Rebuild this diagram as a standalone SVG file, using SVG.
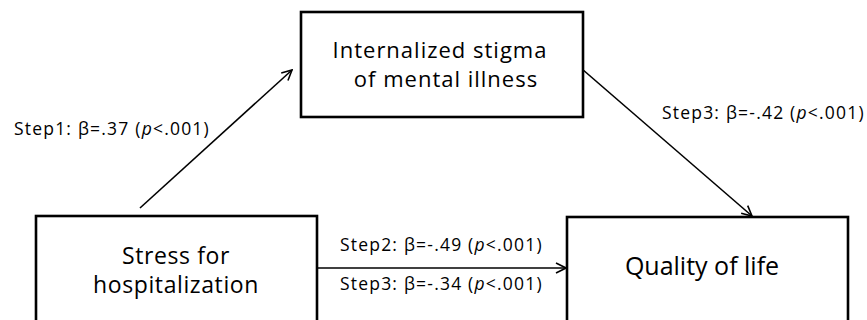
<svg xmlns="http://www.w3.org/2000/svg" width="867" height="320" viewBox="0 0 867 320">
<defs>
<style>
.box{fill:#fff;stroke:#000;stroke-width:2.6}
.t{font-family:"Open Sans","Noto Sans",sans-serif;fill:#000;text-anchor:middle}
.t1{font-size:22px;letter-spacing:1px}
.t2{font-size:23px;letter-spacing:0.6px}
.t3{font-size:25px}
.l{font-family:"Open Sans","Noto Sans",sans-serif;font-size:17.5px;letter-spacing:1.2px;fill:#000}
.c{stroke:#000;stroke-width:1.6;fill:none}
</style>
<marker id="ah" viewBox="0 0 12 12" refX="11" refY="6" markerWidth="12" markerHeight="12" markerUnits="userSpaceOnUse" orient="auto">
<path d="M1,1 L11,6 L1,11" fill="none" stroke="#000" stroke-width="1.6"/>
</marker>
</defs>
<rect width="867" height="320" fill="#fff"/>
<g id="connectors">
<line class="c" x1="140" y1="208" x2="292" y2="70" marker-end="url(#ah)"/>
<line class="c" x1="582" y1="69" x2="752" y2="216" marker-end="url(#ah)"/>
<line class="c" x1="318" y1="268" x2="566" y2="268" marker-end="url(#ah)"/>
</g>
<g id="node-stigma">
<rect class="box" x="301" y="12" width="282" height="105"/>
<text class="t t1" x="440" y="58">Internalized stigma</text>
<text class="t t1" x="446" y="87">of mental illness</text>
</g>
<g id="node-stress">
<rect class="box" x="36" y="216" width="281" height="110"/>
<text class="t t2" x="176" y="264">Stress for</text>
<text class="t t2" x="176" y="293">hospitalization</text>
</g>
<g id="node-qol">
<rect class="box" x="567" y="217" width="281" height="110"/>
<text class="t t3" x="702" y="275">Quality of life</text>
</g>
<g id="labels">
<text class="l" x="14" y="135">Step1: β=.37 (<tspan font-style="italic">p</tspan>&lt;.001)</text>
<text class="l" x="662" y="119">Step3: β=-.42 (<tspan font-style="italic">p</tspan>&lt;.001)</text>
<text class="l" x="340" y="251">Step2: β=-.49 (<tspan font-style="italic">p</tspan>&lt;.001)</text>
<text class="l" x="340" y="290">Step3: β=-.34 (<tspan font-style="italic">p</tspan>&lt;.001)</text>
</g>
</svg>
